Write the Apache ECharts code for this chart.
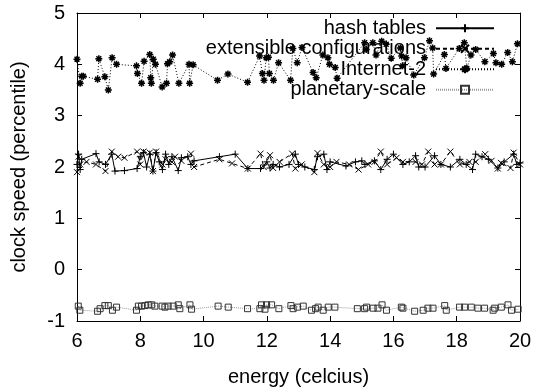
<!DOCTYPE html>
<html>
<head>
<meta charset="utf-8">
<script src="https://cdn.jsdelivr.net/npm/echarts@6/dist/echarts.min.js"></script>
<style>html,body{margin:0;padding:0;background:#fff;}#c{width:536px;height:392px;}</style>
</head>
<body>
<div id="c"></div>
<script>
const seriesNames = ['hash tables', 'extensible configurations', 'Internet-2', 'planetary-scale'];
const xTicks = [6, 8, 10, 12, 14, 16, 18, 20];
const yTicks = [-1, 0, 1, 2, 3, 4, 5];

const hashX = [6.0,6.05,6.1,6.15,6.6,6.7,6.9,7.1,7.2,7.5,7.9,8.0,8.1,8.2,8.3,8.4,8.5,8.6,8.7,8.8,8.9,9.0,9.2,9.3,9.5,9.6,9.7,10.5,11.0,11.4,11.8,12.0,12.1,12.2,12.4,12.7,12.9,13.0,13.2,13.5,13.6,13.8,13.9,14.0,14.5,14.8,15.0,15.1,15.4,15.6,15.8,16.0,16.3,16.5,16.7,16.8,17.0,17.3,17.5,17.8,18.1,18.3,18.5,18.6,18.8,19.0,19.3,19.5,19.8,19.9,20.0];
const hashY = [2.05,2.25,1.95,2.15,2.26,2.10,2.05,2.25,1.92,1.93,1.97,2.20,2.28,2.00,2.25,1.92,2.28,2.10,1.95,2.25,2.05,2.20,1.93,2.18,2.20,2.05,2.12,2.20,2.25,1.97,1.97,2.10,1.98,2.05,2.00,2.05,2.25,2.05,2.00,1.95,2.20,2.25,1.95,2.10,2.02,2.10,2.12,2.05,2.12,1.95,2.15,2.25,2.05,2.10,2.22,2.00,2.00,2.22,2.05,2.00,2.15,2.05,1.95,2.25,2.20,2.15,1.98,2.10,2.25,2.05,2.08];

const extX = [6.0,6.05,6.1,6.3,6.6,6.9,7.1,7.3,7.5,7.9,8.0,8.1,8.3,8.4,8.5,8.7,8.8,9.0,9.1,9.3,9.6,9.7,10.5,10.9,11.4,11.8,11.9,12.1,12.2,12.4,12.8,12.9,13.1,13.5,13.6,13.8,14.0,14.2,14.6,14.9,15.2,15.4,15.6,15.8,16.1,16.3,16.7,16.9,17.1,17.3,17.5,17.8,18.1,18.4,18.6,18.9,19.1,19.3,19.4,19.7,19.8,20.0];
const extY = [1.90,2.20,2.05,2.10,2.05,1.92,2.30,2.20,2.18,2.30,2.05,2.30,2.28,1.92,2.30,2.05,2.15,2.10,2.20,2.12,2.26,2.00,2.15,2.07,1.97,2.26,2.00,2.23,1.98,2.10,2.26,1.97,2.05,1.90,2.27,2.05,2.00,2.10,2.05,1.95,2.05,2.10,2.30,2.05,2.18,2.10,2.10,2.05,2.30,2.05,2.05,2.30,2.05,2.10,2.10,2.25,2.12,1.97,2.08,1.98,2.28,2.05];

const netX = [6.00,6.10,6.15,6.20,6.65,6.69,6.88,6.99,7.11,7.25,7.88,7.91,8.04,8.12,8.30,8.33,8.35,8.41,8.48,8.69,8.83,8.86,8.93,9.02,9.22,9.54,9.56,9.67,10.44,10.77,11.39,11.77,11.86,11.91,11.98,12.05,12.08,12.21,12.37,12.75,12.82,12.96,13.11,13.46,13.56,13.77,13.93,13.98,14.16,14.22,15.09,15.14,15.35,15.45,15.63,15.77,15.93,16.22,16.26,16.29,16.40,16.64,16.98,17.14,17.24,17.27,17.61,17.66,18.08,18.24,18.32,18.45,18.60,18.89,19.16,19.24,19.42,19.61,19.76,19.92];
const netY = [4.10,3.63,3.77,3.77,3.71,4.11,3.76,3.50,4.13,4.00,3.97,3.82,3.63,4.06,4.19,3.74,3.63,4.10,4.00,3.56,3.63,4.01,4.05,4.18,3.63,4.00,3.63,3.99,3.69,3.81,3.65,4.16,3.82,3.69,4.13,4.14,3.82,3.69,4.03,3.69,4.31,4.03,4.33,3.84,3.74,4.18,4.13,4.00,3.94,3.73,4.42,4.29,4.42,4.18,4.45,4.39,4.12,4.32,4.16,3.97,4.13,3.79,4.13,4.46,4.32,3.81,4.19,3.92,4.31,4.42,3.92,4.18,4.29,4.05,4.21,4.03,4.00,4.23,4.05,4.40];

const planX = [6.04,6.09,6.65,6.73,6.88,6.99,7.12,7.25,7.88,7.94,8.04,8.15,8.25,8.36,8.46,8.69,8.78,8.88,9.04,9.20,9.25,9.57,9.62,10.46,10.78,11.39,11.78,11.83,11.94,11.99,12.15,12.38,12.76,12.83,12.97,13.15,13.41,13.54,13.62,13.78,13.94,14.15,14.86,15.09,15.15,15.36,15.51,15.64,15.78,16.25,16.30,16.67,16.94,17.09,17.25,17.62,17.67,18.09,18.25,18.46,18.67,18.88,19.15,19.20,19.41,19.62,19.73,19.94];
const planY = [-0.71,-0.79,-0.81,-0.76,-0.70,-0.70,-0.79,-0.73,-0.79,-0.71,-0.71,-0.70,-0.685,-0.685,-0.71,-0.71,-0.73,-0.71,-0.71,-0.685,-0.76,-0.685,-0.77,-0.71,-0.73,-0.76,-0.76,-0.685,-0.77,-0.685,-0.685,-0.76,-0.70,-0.76,-0.73,-0.71,-0.79,-0.76,-0.73,-0.79,-0.73,-0.73,-0.76,-0.76,-0.73,-0.75,-0.75,-0.685,-0.79,-0.73,-0.75,-0.81,-0.79,-0.75,-0.75,-0.70,-0.79,-0.73,-0.73,-0.73,-0.75,-0.75,-0.79,-0.75,-0.73,-0.685,-0.79,-0.77];

function zip(xs, ys) { return xs.map((x, i) => [x, ys[i]]); }

const FONT = 'Liberation Sans, Arial, Helvetica, sans-serif';
const symPlus = 'path://M5,0L5,10M0,5L10,5';
const symX = 'path://M0,0L10,10M10,0L0,10';
const symStar = 'path://M5,0L5,10M0,5L10,5M1.5,1.5L8.5,8.5M8.5,1.5L1.5,8.5';
const symSquare = 'path://M0,0L10,0L10,10L0,10Z';

function mkSeries(name, data, symbol, size, lineType, lineColor, markColor, markWidth) {
  return {
    name: name, type: 'line', data: data, xAxisIndex: 0, yAxisIndex: 0,
    symbol: symbol, symbolSize: size, showAllSymbol: true,
    lineStyle: { color: lineColor, width: 1, type: lineType },
    itemStyle: { color: 'none', borderColor: markColor, borderWidth: markWidth },
    emphasis: { disabled: true }
  };
}

const chart = echarts.init(document.getElementById('c'), null, { renderer: 'canvas' });
const axisCommon = {
  type: 'value',
  axisLine: { show: true, onZero: false, lineStyle: { color: '#000', width: 1 } },
  axisTick: { show: true, inside: true, length: 5, lineStyle: { color: '#000' } },
  splitLine: { show: false }
};
chart.setOption({
  animation: false,
  backgroundColor: '#fff',
  grid: { left: 77, right: 16, top: 13, bottom: 68 },
  legend: {
    orient: 'vertical', right: 41, top: 18, align: 'right', padding: 0,
    itemWidth: 58, itemHeight: 10, itemGap: 0,
    textStyle: { fontFamily: FONT, fontSize: 20, color: '#000', lineHeight: 20.5, padding: [0, 5, 0, 0] },
    data: seriesNames,
    selectedMode: false
  },
  xAxis: [
    Object.assign({}, axisCommon, {
      min: xTicks[0], max: xTicks[xTicks.length - 1], interval: 2, position: 'bottom',
      name: 'energy (celcius)', nameLocation: 'middle', nameGap: 46,
      nameTextStyle: { fontFamily: FONT, fontSize: 20, color: '#000' },
      axisLabel: { fontFamily: FONT, fontSize: 20, color: '#000', margin: 10 }
    }),
    Object.assign({}, axisCommon, {
      min: xTicks[0], max: xTicks[xTicks.length - 1], interval: 2, position: 'top',
      axisLabel: { show: false }
    })
  ],
  yAxis: [
    Object.assign({}, axisCommon, {
      min: yTicks[0], max: yTicks[yTicks.length - 1], interval: 1, position: 'left',
      name: 'clock speed (percentile)', nameLocation: 'middle', nameGap: 48,
      nameTextStyle: { fontFamily: FONT, fontSize: 20, color: '#000' },
      axisLabel: { fontFamily: FONT, fontSize: 20, color: '#000', margin: 12 }
    }),
    Object.assign({}, axisCommon, {
      min: yTicks[0], max: yTicks[yTicks.length - 1], interval: 1, position: 'right',
      axisLabel: { show: false }
    })
  ],
  series: [
    mkSeries(seriesNames[0], zip(hashX, hashY), symPlus, 7, 'solid', '#000', '#000', 1),
    mkSeries(seriesNames[1], zip(extX, extY), symX, 6, [4, 3], '#000', '#000', 1),
    mkSeries(seriesNames[2], zip(netX, netY), symStar, 7, [1, 2], '#000', '#000', 1.5),
    mkSeries(seriesNames[3], zip(planX, planY), symSquare, 6, [1, 1], '#999', '#333', 1)
  ]
});
</script>
</body>
</html>
